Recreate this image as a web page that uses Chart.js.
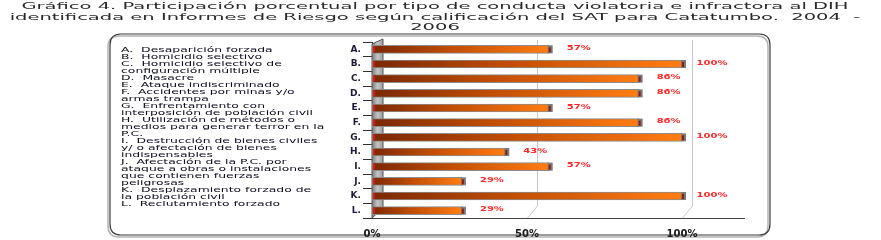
<!DOCTYPE html>
<html>
<head>
<meta charset="utf-8">
<script src="https://cdn.jsdelivr.net/npm/chart.js@4.4.1/dist/chart.umd.min.js"></script>
<style>
    html, body { margin: 0; padding: 0; background: #fff; }
    #chartBox { width: 881px; height: 240px; }
</style>
</head>
<body>
<div id="chartBox"><canvas id="conductaChart" width="881" height="240"></canvas></div>
<script>
const categories = ['A.', 'B.', 'C.', 'D.', 'E.', 'F.', 'G.', 'H.', 'I.', 'J.', 'K.', 'L.'];
const values = [57, 100, 86, 86, 57, 86, 100, 43, 57, 29, 100, 29];
const xTicks = [0, 50, 100];

const titleLines = [
    'Gráfico 4. Participación porcentual por tipo de conducta violatoria e infractora al DIH',
    'identificada en Informes de Riesgo según calificación del SAT para Catatumbo.  2004  -',
    '2006'
];

const legendLines = [
    'A.  Desaparición forzada',
    'B.  Homicidio selectivo',
    'C.  Homicidio selectivo de',
    'configuración múltiple',
    'D.  Masacre',
    'E.  Ataque indiscriminado',
    'F.  Accidentes por minas y/o',
    'armas trampa',
    'G.  Enfrentamiento con',
    'interposición de población civil',
    'H.  Utilización de métodos o',
    'medios para generar terror en la',
    'P.C.',
    'I.  Destrucción de bienes civiles',
    'y/ o afectación de bienes',
    'indispensables',
    'J.  Afectación de la P.C. por',
    'ataque a obras o instalaciones',
    'que contienen fuerzas',
    'peligrosas',
    'K.  Desplazamiento forzado de',
    'la población civil',
    'L.  Reclutamiento forzado'
];

// squashed text helper (the original picture is stretched sideways)
function drawScaledText(ctx, text, x, y, sx, sy) {
    ctx.save();
    ctx.translate(x, y);
    ctx.scale(sx, sy);
    ctx.fillText(text, 0, 0);
    ctx.restore();
}

function roundRect(ctx, x, y, w, h, r) {
    ctx.beginPath();
    ctx.moveTo(x + r, y);
    ctx.lineTo(x + w - r, y);
    ctx.quadraticCurveTo(x + w, y, x + w, y + r);
    ctx.lineTo(x + w, y + h - r);
    ctx.quadraticCurveTo(x + w, y + h, x + w - r, y + h);
    ctx.lineTo(x + r, y + h);
    ctx.quadraticCurveTo(x, y + h, x, y + h - r);
    ctx.lineTo(x, y + r);
    ctx.quadraticCurveTo(x, y, x + r, y);
    ctx.closePath();
}

const framePlugin = {
    id: 'frame',
    beforeDraw(chart) {
        const ctx = chart.ctx;
        ctx.save();
        ctx.fillStyle = '#fff';
        ctx.fillRect(0, 0, chart.width, chart.height);

        // rounded box with shadow
        ctx.lineWidth = 1.5;
        ctx.strokeStyle = '#b4b4b4';
        roundRect(ctx, 108, 36, 660, 201, 11);
        ctx.stroke();
        ctx.strokeStyle = '#3a3a3a';
        ctx.lineWidth = 1.2;
        roundRect(ctx, 110, 34, 660, 201, 11);
        ctx.stroke();

        // title
        ctx.fillStyle = '#2a2a2a';
        ctx.font = '11px "DejaVu Sans"';
        ctx.textBaseline = 'middle';
        ctx.textAlign = 'left';
        const sx = 827 / ctx.measureText(titleLines[0]).width;
        const tys = [7, 17.5, 28];
        titleLines.forEach((line, i) => {
            const w = ctx.measureText(line).width * sx;
            drawScaledText(ctx, line, 435 - w / 2, tys[i], sx, 0.78);
        });

        // legend text in the left panel
        ctx.fillStyle = '#0c0c20';
        ctx.font = '9px "DejaVu Sans"';
        const lx = 192 / ctx.measureText('interposición de población civil').width;
        legendLines.forEach((line, i) => {
            drawScaledText(ctx, line, 121, 50 + i * 7, lx, 0.8);
        });
        ctx.restore();
    }
};

const wallPlugin = {
    id: 'wall',
    beforeDatasetsDraw(chart) {
        const ctx = chart.ctx;
        const area = chart.chartArea;
        const xs = chart.scales.x;
        ctx.save();
        // back wall grid lines (3D depth offset)
        ctx.strokeStyle = '#c8c8c8';
        ctx.lineWidth = 1;
        xTicks.slice(1).forEach(v => {
            const px = Math.round(xs.getPixelForValue(v)) + 10.5;
            ctx.beginPath();
            ctx.moveTo(px, area.top - 2);
            ctx.lineTo(px, area.bottom - 12);
            ctx.lineTo(px - 10, area.bottom);
            ctx.stroke();
        });
        // grey side wall
        const g = ctx.createLinearGradient(area.left, 0, area.left + 11, 0);
        g.addColorStop(0, '#7c7c7c');
        g.addColorStop(0.5, '#c4c4c4');
        g.addColorStop(1, '#a0a0a0');
        ctx.fillStyle = g;
        ctx.beginPath();
        ctx.moveTo(area.left, area.top + 2);
        ctx.lineTo(area.left + 11, area.top - 3);
        ctx.lineTo(area.left + 11, area.bottom - 10);
        ctx.lineTo(area.left, area.bottom);
        ctx.closePath();
        ctx.fill();
        ctx.strokeStyle = '#555';
        ctx.stroke();
        ctx.restore();
    }
};

const barDecorPlugin = {
    id: 'barDecor',
    afterDatasetsDraw(chart) {
        const ctx = chart.ctx;
        const meta = chart.getDatasetMeta(0);
        ctx.save();
        meta.data.forEach((bar, i) => {
            // end cap
            ctx.fillStyle = '#7a7a7a';
            ctx.fillRect(bar.x - 1, bar.y - 4, 5, 8);
            ctx.fillStyle = '#8b1e0e';
            ctx.fillRect(bar.x, bar.y - 2, 2, 5);
            // small red start mark
            ctx.fillStyle = '#d02020';
            ctx.fillRect(bar.base + 1, bar.y - 3, 2, 6);

            ctx.fillStyle = '#ff2a2a';
            ctx.font = 'bold 10px "DejaVu Sans"';
            ctx.textAlign = 'center';
            ctx.textBaseline = 'middle';
            drawScaledText(ctx, values[i] + '%', bar.x + 30, bar.y - 1, 1, 0.7);
        });
        ctx.restore();
    }
};

document.addEventListener('DOMContentLoaded', () => {
    const ctx = document.getElementById('conductaChart').getContext('2d');

    new Chart(ctx, {
        type: 'bar',
        data: {
            labels: categories,
            datasets: [{
                data: values,
                backgroundColor: (c) => {
                    const chart = c.chart;
                    if (!chart.chartArea) return '#d85a08';
                    const xs = chart.scales.x;
                    const x0 = xs.getPixelForValue(0);
                    const x1 = xs.getPixelForValue(c.raw);
                    const g = chart.ctx.createLinearGradient(x0, 0, x1, 0);
                    g.addColorStop(0, '#7a2804');
                    g.addColorStop(0.45, '#c24e06');
                    g.addColorStop(1, '#ff7d12');
                    return g;
                },
                borderColor: '#8c8c8c',
                borderWidth: 1,
                borderSkipped: false,
                barThickness: 8,
            }],
        },
        options: {
            indexAxis: 'y',
            responsive: false,
            animation: false,
            layout: {
                padding: { left: 332, right: 137, top: 42, bottom: 0 },
            },
            plugins: {
                legend: { display: false },
                tooltip: { enabled: false },
                title: { display: false },
            },
            scales: {
                x: {
                    min: 0,
                    max: 120,
                    afterFit: (scale) => { scale.height = 22; },
                    afterBuildTicks: (scale) => {
                        scale.ticks = xTicks.map(v => ({ value: v }));
                    },
                    ticks: {
                        callback: (v) => v + '%',
                        color: '#1a1a1a',
                        font: { family: 'DejaVu Sans', size: 10, weight: 'bold' },
                        padding: 2,
                        maxRotation: 0,
                    },
                    grid: { display: false },
                    border: { display: true, color: '#444', width: 1 },
                },
                y: {
                    afterFit: (scale) => { scale.width = 40; },
                    ticks: {
                        color: '#1b1b3a',
                        font: { family: 'DejaVu Sans', size: 9, weight: 'bold' },
                        padding: 2,
                    },
                    grid: {
                        drawOnChartArea: false,
                        tickLength: 9,
                        color: '#333',
                        offset: true,
                    },
                    border: { display: true, color: '#333', width: 1 },
                },
            },
        },
        plugins: [framePlugin, wallPlugin, barDecorPlugin],
    });
});
</script>
</body>
</html>
